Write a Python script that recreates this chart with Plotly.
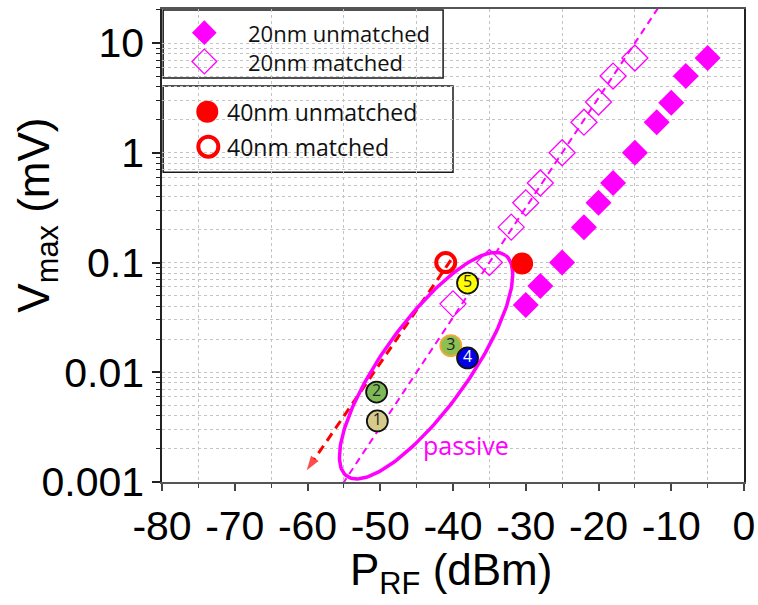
import numpy as np
import plotly.graph_objects as go

# ---------------- data ----------------
# 20 nm devices
p20_unmatched = [-5, -8, -10, -12, -15, -18, -20, -22, -25, -28, -30]
v20_unmatched = [7.3, 5.0, 2.85, 1.9, 1.0, 0.53, 0.35, 0.21, 0.1, 0.061, 0.041]
p20_matched = [-15, -18, -20, -22, -25, -28, -30, -32, -35, -40]
v20_matched = [7.3, 5.0, 2.9, 1.9, 1.0, 0.53, 0.35, 0.21, 0.1, 0.042]
# 40 nm devices
p40_unmatched = [-30.5]
v40_unmatched = [0.098]
p40_matched = [-41]
v40_matched = [0.1]
# numbered passive devices
dev_labels = ["1", "2", "3", "4", "5"]
dev_p = [-50.4, -50.5, -40.3, -38.0, -38.0]
dev_v = [0.0036, 0.0066, 0.0175, 0.0135, 0.065]
dev_fill = ["#D6CB8A", "#7DBA57", "#8CC152", "#0000E6", "#FFFF00"]
dev_edge = ["#111111", "#111111", "#F2A93B", "#111111", "#111111"]
dev_txtcol = ["#222222", "#222222", "#222222", "#FFFFFF", "#222222"]
# guide (square-law) line and extrapolation arrow
guide_p = [-57, -10]
guide_v = [0.00063, 31.6]
arrow_p = [-40.3, -60.1]
arrow_v = [0.105, 0.00128]
# "passive" ellipse: centre (dBm, log10 V), semi-axes (px), tilt (deg)
ell_center = (-43.7, -1.94)
ell_axes_px = (136, 43)
ell_tilt_deg = 54.3
passive_label = ("passive", -38.2, 0.00219)
# axis ticks
x_tickvals = [-80, -70, -60, -50, -40, -30, -20, -10, 0]
x_ticktext = ["-80", "-70", "-60", "-50", "-40", "-30", "-20", "-10", "0"]
x_minorvals = [-75, -65, -55, -45, -35, -25, -15, -5]
y_tickvals = [0.001, 0.01, 0.1, 1, 10]
y_ticktext = ["0.001", "0.01", "0.1", "1", "10"]
# legend entries
legend_items = ["20nm unmatched", "20nm matched", "40nm unmatched", "40nm matched"]

MAG = "#FF00FF"
RED = "#FF0000"
ARIAL = "Liberation Sans, Arial, sans-serif"
TICKFONT = dict(family=ARIAL, size=41, color="#000000")
LEGFONT = "Open Sans, Noto Sans, sans-serif"

# plot geometry (px) for the ellipse
PX_PER_DB = 7.28
PX_PER_DEC = 109.75

fig = go.Figure()

# guide line
fig.add_trace(go.Scatter(x=guide_p, y=guide_v, mode="lines",
                         line=dict(color=MAG, width=2, dash="7px,5px"),
                         hoverinfo="skip"))
# red extrapolation arrow
fig.add_trace(go.Scatter(x=arrow_p, y=arrow_v, mode="lines+markers",
                         line=dict(color=RED, width=3, dash="9px,6px"),
                         marker=dict(symbol="arrow", size=[0, 15], angleref="previous",
                                     color=RED, line=dict(width=0)),
                         hoverinfo="skip"))
# ellipse
t = np.linspace(0, 2 * np.pi, 200)
th = np.deg2rad(ell_tilt_deg)
a, b = ell_axes_px
dx = a * np.cos(t) * np.cos(th) - b * np.sin(t) * np.sin(th)
dy = a * np.cos(t) * np.sin(th) + b * np.sin(t) * np.cos(th)
ex = ell_center[0] + dx / PX_PER_DB
ey = 10 ** (ell_center[1] + dy / PX_PER_DEC)
fig.add_trace(go.Scatter(x=ex, y=ey, mode="lines", line=dict(color=MAG, width=3.5),
                         hoverinfo="skip"))

# 20nm matched (open diamonds)
fig.add_trace(go.Scatter(x=p20_matched, y=v20_matched, mode="markers",
                         marker=dict(symbol="diamond-open", size=20, color=MAG,
                                     line=dict(color=MAG, width=1.3)),
                         name=legend_items[1]))
# 20nm unmatched (filled diamonds)
fig.add_trace(go.Scatter(x=p20_unmatched, y=v20_unmatched, mode="markers",
                         marker=dict(symbol="diamond", size=20, color=MAG,
                                     line=dict(width=0)),
                         name=legend_items[0]))
# 40nm unmatched
fig.add_trace(go.Scatter(x=p40_unmatched, y=v40_unmatched, mode="markers",
                         marker=dict(symbol="circle", size=22, color=RED, line=dict(width=0)),
                         name=legend_items[2]))
# 40nm matched
fig.add_trace(go.Scatter(x=p40_matched, y=v40_matched, mode="markers",
                         marker=dict(symbol="circle-open", size=19, color=RED,
                                     line=dict(color=RED, width=4)),
                         name=legend_items[3]))
# numbered devices
fig.add_trace(go.Scatter(x=dev_p, y=dev_v, mode="markers+text", text=dev_labels,
                         textposition="middle center",
                         textfont=dict(family=LEGFONT, size=16, color=dev_txtcol),
                         marker=dict(symbol="circle", size=21, color=dev_fill,
                                     line=dict(color=dev_edge, width=1.8)),
                         hoverinfo="skip"))

# ---- custom legend (two boxes) on an overlay paper-like axis ----
leg_x = [0.0727, 0.0727, 0.0778, 0.0796]
leg_y = [0.950, 0.889, 0.783, 0.709]
fig.add_trace(go.Scatter(x=leg_x[:1], y=leg_y[:1], xaxis="x2", yaxis="y2", mode="markers",
                         marker=dict(symbol="diamond", size=19, color=MAG, line=dict(width=0)),
                         hoverinfo="skip"))
fig.add_trace(go.Scatter(x=leg_x[1:2], y=leg_y[1:2], xaxis="x2", yaxis="y2", mode="markers",
                         marker=dict(symbol="diamond-open", size=19, color=MAG,
                                     line=dict(color=MAG, width=1.3)),
                         hoverinfo="skip"))
fig.add_trace(go.Scatter(x=leg_x[2:3], y=leg_y[2:3], xaxis="x2", yaxis="y2", mode="markers",
                         marker=dict(symbol="circle", size=22, color=RED, line=dict(width=0)),
                         hoverinfo="skip"))
fig.add_trace(go.Scatter(x=leg_x[3:4], y=leg_y[3:4], xaxis="x2", yaxis="y2", mode="markers",
                         marker=dict(symbol="circle-open", size=20, color=RED,
                                     line=dict(color=RED, width=4)),
                         hoverinfo="skip"))

shapes = [
    dict(type="rect", xref="paper", yref="paper", x0=0.002, x1=0.483, y0=0.854, y1=0.998,
         line=dict(color="#1a1a1a", width=1.5), fillcolor="white", layer="between"),
    dict(type="rect", xref="paper", yref="paper", x0=0.002, x1=0.500, y0=0.655, y1=0.837,
         line=dict(color="#1a1a1a", width=1.5), fillcolor="white", layer="between"),
]

annotations = [
    dict(text=legend_items[0], x=0.1443, y=0.950, xref="paper", yref="paper",
         xanchor="left", yanchor="middle", showarrow=False,
         font=dict(family=LEGFONT, size=22, color="#111111")),
    dict(text=legend_items[1], x=0.1443, y=0.889, xref="paper", yref="paper",
         xanchor="left", yanchor="middle", showarrow=False,
         font=dict(family=LEGFONT, size=22, color="#111111")),
    dict(text=legend_items[2], x=0.108, y=0.783, xref="paper", yref="paper",
         xanchor="left", yanchor="middle", showarrow=False,
         font=dict(family=LEGFONT, size=23, color="#111111")),
    dict(text=legend_items[3], x=0.108, y=0.709, xref="paper", yref="paper",
         xanchor="left", yanchor="middle", showarrow=False,
         font=dict(family=LEGFONT, size=23, color="#111111")),
    dict(text=passive_label[0], x=passive_label[1], y=np.log10(passive_label[2]),
         xref="x", yref="y", xanchor="center", yanchor="middle", showarrow=False,
         font=dict(family=LEGFONT, size=25, color=MAG)),
    # axis titles
    dict(text="V<sub>max</sub> (mV)", x=-0.215, y=0.565, xref="paper", yref="paper",
         xanchor="center", yanchor="middle", textangle=-90, showarrow=False,
         font=dict(family=ARIAL, size=44, color="#000000")),
    dict(text="P<sub>RF</sub> (dBm)", x=0.497, y=-0.193, xref="paper", yref="paper",
         xanchor="center", yanchor="middle", showarrow=False,
         font=dict(family=ARIAL, size=44, color="#000000")),
]

fig.update_layout(
    width=758, height=605,
    margin=dict(l=162, r=14, t=9, b=123, autoexpand=False),
    paper_bgcolor="white", plot_bgcolor="white",
    showlegend=False,
    shapes=shapes, annotations=annotations,
    xaxis=dict(
        range=[-80, 0], tickmode="array", tickvals=x_tickvals, ticktext=x_ticktext,
        tickfont=TICKFONT, ticks="outside", ticklen=7, tickwidth=1.5, tickcolor="#444444",
        showgrid=False, zeroline=False, automargin=False,
        showline=True, linecolor="#555555", linewidth=2, mirror=True,
        minor=dict(tickmode="array", tickvals=x_minorvals, ticks="outside", ticklen=4,
                   tickwidth=1.2, tickcolor="#444444", showgrid=True,
                   gridcolor="#C4C4C4", griddash="dot", gridwidth=1),
    ),
    yaxis=dict(
        type="log", range=[-3, 1.31], tickmode="array", tickvals=y_tickvals,
        ticktext=y_ticktext, tickfont=TICKFONT, ticks="outside", ticklen=8, tickwidth=1.5,
        tickcolor="#222222", showgrid=False, zeroline=False, automargin=False,
        showline=True, linecolor="#222222", linewidth=1.5, mirror=True,
        minor=dict(dtick="D1", ticks="outside", ticklen=4, tickwidth=1.2,
                   tickcolor="#222222", showgrid=True, gridcolor="#C4C4C4",
                   griddash="dot", gridwidth=1),
    ),
    xaxis2=dict(overlaying="x", range=[0, 1], visible=False, fixedrange=True),
    yaxis2=dict(overlaying="y", range=[0, 1], visible=False, fixedrange=True),
)

# remove the default 8px page margin so the 758x605 figure fills the window exactly
fig.write_html("out.html", config={"displayModeBar": False},
               post_script="document.body.style.margin='0';document.body.style.overflow='hidden';")
